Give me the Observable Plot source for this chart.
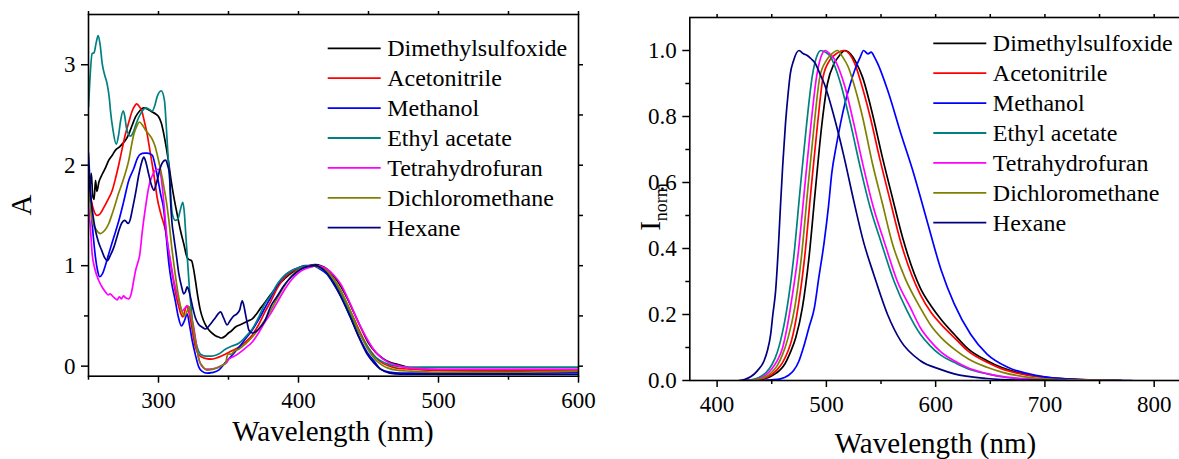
<!DOCTYPE html>
<html><head><meta charset="utf-8">
<script src="https://cdn.jsdelivr.net/npm/d3@7"></script>
<script src="https://cdn.jsdelivr.net/npm/@observablehq/plot@0.6"></script>
<style>
html,body{margin:0;padding:0;background:#fff;overflow:hidden;}
#wrap{display:flex;width:1181px;height:459px;}
svg{display:block;flex:none;max-width:none !important;}
svg text{font-family:"Liberation Serif","Times New Roman",serif !important;}
</style></head><body><div id="wrap"></div>
<script>
const solvents = ["Dimethylsulfoxide","Acetonitrile","Methanol","Ethyl acetate","Tetrahydrofuran","Dichloromethane","Hexane"];
const colors = ["#000000","#ff0000","#0000ff","#008080","#ff00ff","#808000","#000080"];

// Absorption spectra [wavelength nm, A]
const absDMSO = [[250,1.88],[251,1.78],[252,1.92],[253,1.70],[254,1.66],[255,1.85],[256,1.74],[257.4,1.83],[259.8,1.91],[262,1.97],[264.5,2.05],[267,2.10],[269.3,2.15],[272,2.18],[274,2.21],[276,2.24],[278.8,2.31],[281,2.39],[283.6,2.48],[286.5,2.54],[289.5,2.57],[292,2.56],[295.5,2.53],[298,2.51],[300.2,2.48],[302,2.42],[303.8,2.31],[305.5,2.18],[307,2.05],[309,1.85],[311,1.68],[313.5,1.50],[315.7,1.35],[318,1.22],[320.5,1.08],[322,1.06],[323.6,1.05],[325,0.97],[326.4,0.85],[328,0.70],[330,0.55],[332,0.46],[334,0.40],[336,0.36],[339,0.32],[341,0.30],[343,0.29],[345,0.28],[347.8,0.30],[350,0.33],[352,0.35],[355,0.39],[358,0.41],[361,0.43],[364,0.45],[367,0.47],[370,0.52],[373,0.58],[376.4,0.64],[380,0.71],[385,0.80],[390,0.87],[395,0.93],[400,0.97],[405,0.99],[412,1.01],[416,1.0],[420,0.97],[425,0.90],[430,0.80],[435,0.67],[440,0.52],[445,0.37],[450,0.23],[455,0.14],[460,0.08],[465,0.04],[470,0.02],[475,0.0],[480,-0.02],[490,-0.035],[500,-0.04],[550,-0.05],[600,-0.05]];
const absACN = [[250,1.85],[252,1.65],[253.8,1.55],[256.2,1.50],[258.5,1.52],[261,1.58],[264,1.66],[267,1.75],[269.5,1.88],[271.7,2.01],[274,2.16],[276.4,2.31],[279,2.44],[281.2,2.54],[283,2.59],[284.3,2.61],[286,2.59],[288.3,2.53],[290,2.43],[291.9,2.31],[293.7,2.16],[295.5,2.01],[297.3,1.85],[299,1.68],[302,1.50],[305,1.35],[307.5,1.12],[309.8,0.92],[312,0.74],[314.5,0.59],[316,0.52],[317.4,0.49],[318.8,0.55],[320,0.60],[321.5,0.55],[323,0.45],[324.8,0.30],[326.4,0.19],[328.5,0.12],[331,0.09],[334,0.075],[338,0.07],[343,0.09],[348,0.12],[352,0.15],[357.6,0.19],[362,0.24],[367,0.31],[371,0.40],[376.4,0.55],[380,0.64],[385,0.78],[390,0.88],[395,0.94],[400,0.97],[405,0.99],[410,1.0],[415,0.99],[420,0.95],[425,0.87],[430,0.75],[435,0.61],[440,0.46],[445,0.31],[450,0.18],[455,0.09],[460,0.03],[465,0.0],[470,-0.02],[480,-0.03],[500,-0.04],[550,-0.04],[600,-0.04]];
const absMeOH = [[250,2.12],[251,1.85],[252,1.55],[253.5,1.28],[255,1.08],[256.5,0.95],[258,0.89],[260,0.92],[262,1.00],[264.5,1.12],[268,1.28],[271.7,1.45],[275,1.63],[278.8,1.85],[282.4,1.97],[285,2.07],[287,2.11],[290,2.12],[292,2.12],[295.5,2.10],[297.9,1.98],[299.7,1.85],[301.4,1.72],[303.8,1.55],[305.5,1.30],[307.4,1.02],[309.5,0.82],[312,0.65],[314,0.50],[316.4,0.40],[318.5,0.45],[320.5,0.52],[322,0.42],[324,0.26],[326.4,0.11],[328.8,-0.01],[331,-0.05],[334.8,-0.07],[338,-0.065],[343,-0.04],[348,0.04],[352,0.10],[357.6,0.19],[362,0.27],[367,0.36],[371,0.45],[376,0.58],[380,0.68],[385,0.81],[390,0.90],[395,0.95],[400,0.98],[405,1.0],[410,1.0],[415,0.97],[420,0.92],[425,0.82],[430,0.70],[437,0.49],[443,0.30],[449,0.14],[454,0.05],[458.6,-0.03],[465,-0.06],[473,-0.07],[500,-0.07],[550,-0.07],[600,-0.06]];
const absEA = [[250,2.58],[251,2.85],[252.6,3.11],[254,3.12],[255.5,3.22],[256.9,3.29],[258.3,3.20],[259.8,3.01],[261.5,2.90],[263.3,2.81],[265,2.65],[265.7,2.54],[267.5,2.35],[269.8,2.21],[271.5,2.30],[272.9,2.44],[274.8,2.54],[276,2.48],[277,2.38],[278.5,2.31],[280,2.29],[282,2.33],[284,2.41],[286,2.48],[288.5,2.54],[290.7,2.57],[293,2.56],[295.5,2.54],[297.5,2.60],[299,2.68],[302,2.74],[304.3,2.64],[305.5,2.40],[307,2.05],[308.5,1.75],[309.8,1.52],[312,1.45],[314,1.47],[315.5,1.55],[317.4,1.63],[318.5,1.52],[319.3,1.35],[320.5,1.10],[322,0.79],[323.5,0.55],[325,0.36],[327,0.22],[330,0.12],[333.6,0.10],[338,0.10],[343,0.12],[348,0.17],[352.6,0.20],[357.6,0.23],[362,0.29],[367,0.37],[371,0.47],[376,0.62],[380,0.70],[385,0.82],[390,0.90],[395,0.95],[400,0.98],[405,0.995],[410,1.0],[415,0.98],[420,0.93],[425,0.84],[430,0.72],[437,0.52],[443,0.34],[449,0.20],[454,0.10],[458,0.06],[464,0.02],[470,0.0],[480,-0.01],[500,-0.01],[550,-0.01],[600,-0.01]];
const absTHF = [[250,1.60],[251.5,1.35],[252.6,1.12],[254.5,0.97],[257.4,0.85],[260,0.78],[262,0.74],[264,0.71],[265.5,0.72],[267,0.70],[268.5,0.68],[270.5,0.66],[272,0.69],[273.5,0.67],[275,0.70],[276.5,0.68],[278.8,0.67],[280.5,0.72],[282,0.83],[283.6,0.95],[285,1.02],[286.5,1.10],[288.5,1.35],[290.7,1.58],[293,1.78],[294.3,1.85],[296,1.91],[297.9,1.95],[299.8,1.96],[301.5,1.91],[302.6,1.80],[304.3,1.55],[306,1.28],[308.5,1.05],[311,0.85],[314,0.68],[316.9,0.55],[319,0.58],[321,0.60],[322.5,0.52],[325,0.40],[327,0.22],[329,0.06],[331,0.0],[333.6,-0.03],[337,-0.03],[343,-0.01],[347,0.02],[349,0.04],[350,0.07],[353,0.09],[357.6,0.13],[362,0.18],[367,0.24],[371,0.32],[376,0.44],[380,0.52],[385,0.64],[390,0.76],[395,0.86],[400,0.93],[405,0.97],[410,0.99],[413,1.0],[417,0.99],[420,0.97],[425,0.91],[430,0.82],[437,0.62],[443,0.43],[449,0.27],[454,0.16],[458.6,0.09],[464,0.04],[470,0.01],[480,-0.02],[500,-0.03],[550,-0.03],[600,-0.03]];
const absDCM = [[250,1.78],[251.5,1.58],[252.6,1.45],[255,1.37],[258.6,1.32],[261.5,1.35],[264.5,1.42],[267,1.52],[269.3,1.62],[271.5,1.72],[274,1.82],[276.5,1.93],[278.8,2.05],[280.5,2.18],[282.4,2.31],[284.5,2.39],[286.4,2.43],[288.5,2.40],[290.7,2.35],[293,2.31],[295.5,2.26],[297.5,2.19],[299,2.11],[300.8,2.00],[302.6,1.88],[304,1.77],[305.5,1.65],[307.4,1.45],[309.5,1.18],[311.6,0.95],[314,0.72],[316.9,0.54],[318.8,0.50],[320.5,0.55],[322,0.59],[323.5,0.50],[325,0.36],[327,0.20],[329,0.06],[331.5,0.0],[334.8,-0.04],[339,-0.03],[343,-0.01],[345.5,0.01],[348,0.03],[349,0.10],[350,0.12],[352,0.12],[354,0.15],[357.6,0.17],[362,0.22],[367,0.29],[371,0.36],[376,0.46],[380,0.55],[385,0.68],[390,0.80],[395,0.90],[400,0.96],[405,0.99],[411,1.0],[415,0.98],[420,0.95],[425,0.87],[430,0.76],[437,0.55],[443,0.35],[449,0.18],[454,0.08],[458.6,0.02],[464,-0.02],[470,-0.04],[480,-0.05],[500,-0.06],[550,-0.06],[600,-0.05]];
const absHex = [[250,1.95],[251.5,1.70],[253,1.52],[255,1.35],[257,1.24],[259.5,1.15],[261.5,1.08],[263.5,1.05],[265.5,1.10],[268,1.18],[270,1.27],[271.7,1.35],[274,1.43],[276,1.45],[278.3,1.42],[280,1.47],[281.2,1.55],[283.6,1.72],[286,1.91],[288,2.03],[289.5,2.08],[291,2.03],[293,1.91],[295,1.80],[296.7,1.75],[298.5,1.82],[301.4,1.98],[303,2.03],[305,2.05],[306.5,2.0],[307.9,1.91],[308.6,1.65],[309.5,1.45],[311,1.28],[312.8,1.10],[314.5,0.92],[316.5,0.79],[318,0.72],[319.2,0.74],[320.5,0.79],[321.5,0.76],[322.8,0.69],[324.5,0.58],[326.4,0.48],[328.5,0.42],[331,0.39],[333.6,0.37],[336,0.40],[338.3,0.44],[341,0.49],[344.3,0.54],[346.5,0.48],[349,0.41],[351,0.45],[353.8,0.50],[356,0.52],[358,0.56],[359.8,0.65],[361,0.60],[362.1,0.52],[363.5,0.42],[364.5,0.36],[367,0.33],[369,0.34],[371.7,0.37],[376,0.45],[380,0.59],[385,0.70],[389.5,0.80],[395,0.89],[401,0.96],[406,0.99],[412,1.0],[416,0.98],[420,0.93],[425,0.83],[430,0.70],[437,0.49],[443,0.29],[449,0.12],[454,0.03],[458.6,-0.03],[465,-0.07],[473,-0.08],[500,-0.08],[550,-0.08],[600,-0.08]];

// Normalised emission spectra [wavelength nm, I]
const emDMSO = [[432,0],[442,0.004],[447,0.009],[452,0.018],[457,0.03],[462,0.05],[467,0.085],[472,0.13],[478,0.22],[484,0.37],[490,0.58],[496,0.78],[501,0.9],[507,0.96],[512,0.985],[517,1.0],[522,0.99],[527,0.965],[533,0.92],[542,0.81],[551,0.68],[560,0.56],[570,0.43],[586,0.28],[596,0.225],[605,0.185],[617,0.14],[630,0.095],[647,0.06],[660,0.04],[678,0.022],[700,0.01],[730,0.003],[770,0]];
const emACN = [[430,0],[440,0.004],[445,0.009],[450,0.018],[455,0.033],[460,0.055],[465,0.09],[468,0.12],[474,0.22],[480,0.37],[486,0.58],[492,0.78],[497,0.92],[503,0.97],[509,0.99],[516,1.0],[521,0.99],[526,0.96],[531,0.91],[540,0.80],[549,0.67],[558,0.55],[568,0.42],[586,0.26],[596,0.205],[605,0.17],[617,0.13],[630,0.088],[647,0.055],[660,0.036],[678,0.02],[700,0.009],[730,0.003],[770,0]];
const emMeOH = [[440,0],[450,0.002],[458,0.005],[465,0.015],[470,0.03],[475,0.06],[479,0.10],[484,0.16],[489,0.22],[493,0.31],[498,0.42],[502,0.53],[505,0.63],[509,0.71],[513,0.78],[517,0.84],[522,0.90],[527,0.95],[531,0.98],[534,1.0],[538,0.99],[541,0.995],[544,0.98],[547,0.96],[556,0.88],[568,0.75],[580,0.626],[592,0.485],[605,0.335],[617,0.232],[632,0.14],[647,0.08],[666,0.04],[693,0.015],[724,0.004],[750,0.001],[780,0]];
const emEA = [[425,0],[435,0.005],[440,0.012],[445,0.025],[450.5,0.05],[455,0.085],[458,0.12],[464,0.22],[470,0.37],[476,0.58],[482,0.78],[487,0.92],[491,0.98],[495,1.0],[499,0.995],[504,0.98],[508,0.95],[513,0.90],[522,0.78],[531,0.646],[540,0.525],[550,0.42],[562,0.30],[574,0.21],[586,0.14],[595,0.105],[605,0.076],[617,0.055],[630,0.035],[647,0.02],[665,0.009],[690,0.003],[720,0.001],[760,0]];
const emTHF = [[425,0],[435,0.003],[440,0.008],[445,0.018],[450,0.035],[455,0.06],[460,0.1],[464,0.16],[468,0.24],[474,0.38],[480,0.58],[486,0.78],[491,0.92],[495,0.98],[499,1.0],[503,0.99],[508,0.97],[512,0.94],[517,0.89],[525,0.78],[534,0.646],[543,0.525],[553,0.42],[565,0.30],[577,0.22],[586,0.16],[595,0.12],[605,0.086],[617,0.06],[630,0.038],[647,0.021],[665,0.01],[690,0.004],[720,0.001],[760,0]];
const emDCM = [[430,0],[440,0.006],[445,0.012],[450,0.025],[455,0.045],[460,0.08],[465,0.13],[471,0.22],[477,0.37],[483,0.58],[489,0.78],[494,0.92],[500,0.97],[505,0.99],[510,1.0],[515,0.98],[520,0.95],[525,0.90],[533,0.80],[542,0.66],[551,0.54],[560,0.42],[572,0.31],[586,0.22],[596,0.165],[605,0.13],[617,0.095],[630,0.065],[647,0.04],[662,0.024],[680,0.012],[700,0.005],[730,0.001],[770,0]];
const emHex = [[420,0],[425,0.003],[431,0.012],[437,0.03],[443,0.06],[446,0.09],[449,0.14],[451,0.2],[453.5,0.27],[456,0.40],[458,0.53],[460,0.65],[462.6,0.78],[465,0.87],[467,0.93],[470,0.97],[475,1.0],[479,0.99],[482.5,0.985],[486,0.975],[490,0.96],[494,0.93],[498,0.90],[507,0.80],[516,0.68],[525,0.545],[534,0.42],[543.5,0.32],[556,0.20],[568,0.12],[586,0.06],[605,0.033],[617,0.02],[647,0.006],[680,0.001],[720,0]];

const absSeries = [absDMSO, absACN, absMeOH, absEA, absTHF, absDCM, absHex];
const emSeries = [emDMSO, emACN, emMeOH, emEA, emTHF, emDCM, emHex];

const absXMajor = [300,400,500,600], absXMinor = [250,350,450,550];
const absYMajor = [0,1,2,3], absYMinor = [0.5,1.5,2.5];
const emXMajor = [400,500,600,700,800], emXMinor = [450,550,650,750];
const emYMajor = [0,0.2,0.4,0.6,0.8,1.0], emYMinor = [0.1,0.3,0.5,0.7,0.9];

function toTable(series) {
  const rows = [];
  series.forEach((pts, i) => pts.forEach(([wl, v]) => rows.push({solvent: solvents[i], wl, v})));
  return rows;
}

const FONT = "'Liberation Serif', 'Times New Roman', serif";

function panel(o) {
  const tickStyle = {strokeWidth: 1.5, fontSize: 23, label: null};
  const marks = [
    Plot.line(toTable(o.series), {x: "wl", y: "v", z: "solvent", stroke: "solvent", strokeWidth: 1.7, curve: "monotone-x", clip: true}),
    Plot.frame({stroke: "black", strokeWidth: 1.6}),
    Plot.axisX({...tickStyle, ticks: o.xMajor, tickSize: 7, tickPadding: 8, tickFormat: d => String(d)}),
    Plot.axisX({...tickStyle, ticks: o.xMinor, tickSize: 4, tickFormat: () => ""}),
    Plot.axisX({...tickStyle, anchor: "top", ticks: o.xMajor.concat(o.xMinor), tickSize: 4, tickFormat: () => ""}),
    Plot.axisY({...tickStyle, ticks: o.yMajor, tickSize: 7, tickPadding: 6, tickFormat: o.yFmt}),
    Plot.axisY({...tickStyle, ticks: o.yMinor, tickSize: 4, tickFormat: () => ""})
  ];
  if (o.rightTicks) {
    marks.push(Plot.axisY({...tickStyle, anchor: "right", ticks: o.yMajor.concat(o.yMinor), tickSize: 4, tickFormat: () => ""}));
  }
  const svg = Plot.plot({
    width: o.width, height: 459,
    marginLeft: o.ml, marginRight: o.mr, marginTop: o.mt, marginBottom: o.mb,
    x: {domain: o.xDomain},
    y: {domain: o.yDomain},
    color: {domain: solvents, range: colors},
    style: {fontFamily: FONT, fontSize: "23px", color: "black", background: "white", overflow: "visible"},
    marks
  });
  d3.select(svg).selectAll("text").style("font-size", "23px");
  return svg;
}

function legend(svg, x0, y0) {
  const g = d3.select(svg).append("g").attr("text-anchor", "start");
  solvents.forEach((s, i) => {
    const y = y0 + i * 29.9;
    g.append("line").attr("x1", x0).attr("x2", x0 + 53).attr("y1", y).attr("y2", y)
      .attr("stroke", colors[i]).attr("stroke-width", 1.8);
    g.append("text").attr("x", x0 + 59.5).attr("y", y + 8)
      .style("font-size", "24px").style("text-anchor", "start").attr("fill", "black").text(s);
  });
}

const wrap = document.getElementById("wrap");

const left = panel({series: absSeries, width: 600, ml: 88, mr: 22, mt: 14, mb: 83.3,
  xDomain: [250, 600], yDomain: [-0.1, 3.5], xMajor: absXMajor, xMinor: absXMinor,
  yMajor: absYMajor, yMinor: absYMinor, yFmt: d => String(d), rightTicks: true});
legend(left, 327.7, 48.3);
const ls = d3.select(left);
ls.append("text").attr("transform", "translate(30.5,205) rotate(-90)").style("text-anchor", "middle")
  .style("font-size", "29px").text("A");
ls.append("text").attr("x", 333).attr("y", 441).style("text-anchor", "middle")
  .style("font-size", "29px").text("Wavelength (nm)");
wrap.appendChild(left);

const right = panel({series: emSeries, width: 581, ml: 89.3, mr: 0, mt: 17, mb: 79,
  xDomain: [375, 825], yDomain: [0, 1.1], xMajor: emXMajor, xMinor: emXMinor,
  yMajor: emYMajor, yMinor: emYMinor, yFmt: d3.format(".1f"), rightTicks: false});
legend(right, 333.3, 43.3);
const rs = d3.select(right);
const yl = rs.append("text").attr("transform", "translate(60,207) rotate(-90)").style("text-anchor", "middle")
  .style("font-size", "29px");
yl.append("tspan").text("I");
yl.append("tspan").style("font-size", "18px").attr("dy", 7).text("norm");
rs.append("text").attr("x", 335.5).attr("y", 453).style("text-anchor", "middle")
  .style("font-size", "29px").text("Wavelength (nm)");
wrap.appendChild(right);
</script></body></html>
